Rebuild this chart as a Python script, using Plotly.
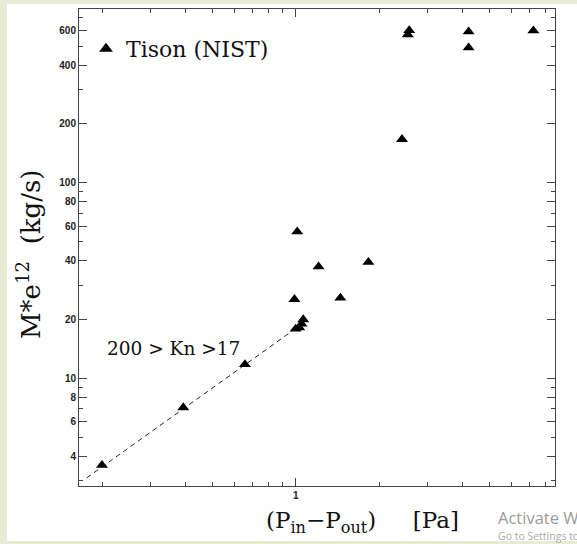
import plotly.graph_objects as go

# Data
dp_pa = [0.20, 0.393, 0.656, 0.99, 1.00, 1.03, 1.05, 1.065, 1.013, 1.21, 1.45, 1.83, 2.42, 2.54, 2.57, 4.21, 4.21, 7.21]
mass_flow = [3.6, 7.1, 11.8, 25.4, 17.9, 18.2, 19.0, 20.0, 56.3, 37.3, 25.8, 39.3, 167, 573, 602, 593, 491, 600]

fit_x = [0.176, 1.0]
fit_y = [3.1, 18.0]

y_tick_vals = [4, 6, 8, 10, 20, 40, 60, 80, 100, 200, 400, 600]
y_tick_text = ["4", "6", "8", "10", "20", "40", "60", "80", "100", "200", "400", "600"]
y_minor_vals = [3, 5, 7, 9, 30, 50, 70, 90, 300, 500, 700]
x_tick_vals = [1]
x_tick_text = ["1"]
x_minor_vals = [0.2, 0.3, 0.4, 0.5, 0.6, 0.7, 0.8, 0.9, 2, 3, 4, 5, 6, 7, 8]

W, H = 577, 544
L, R, T, B = 79, 22, 9, 58
pw, ph = W - L - R, H - T - B

def px(xp):
    return (xp - L) / pw

def py(yp):
    return (H - B - yp) / ph

serif = "DejaVu Serif"
ink = "#111111"
green = "#e8ecd4"

fig = go.Figure()
fig.add_trace(go.Scatter(
    x=fit_x, y=fit_y, mode="lines",
    line=dict(color="#222222", width=1, dash="5px,4px"),
    showlegend=False, hoverinfo="skip"))
fig.add_trace(go.Scatter(
    x=dp_pa, y=mass_flow, mode="markers", name="Tison (NIST)",
    marker=dict(symbol="triangle-up", size=10.5, color="black", line=dict(width=0))))

axis_common = dict(
    showgrid=False, zeroline=False, showline=True, linecolor="#444444", linewidth=1,
    ticks="inside", mirror="ticks", tickcolor="#444444", tickwidth=1, ticklen=8,
    tickfont=dict(family="Liberation Sans", size=10, color="#222222", weight="bold"),
)

fig.update_layout(
    width=W, height=H,
    margin=dict(l=L, r=R, t=T, b=B, autoexpand=False),
    paper_bgcolor="white", plot_bgcolor="white",
    xaxis=dict(type="log", range=[-0.782, 0.936], tickmode="array",
               tickvals=x_tick_vals, ticktext=x_tick_text,
               minor=dict(tickmode="array", tickvals=x_minor_vals, ticks="inside",
                          ticklen=4, tickcolor="#444444", tickwidth=1),
               **axis_common),
    yaxis=dict(type="log", range=[0.45, 2.889], tickmode="array",
               tickvals=y_tick_vals, ticktext=y_tick_text,
               minor=dict(tickmode="array", tickvals=y_minor_vals, ticks="inside",
                          ticklen=4, tickcolor="#444444", tickwidth=1),
               **axis_common),
    showlegend=True,
    legend=dict(x=px(86), y=py(28), xanchor="left", yanchor="top",
                bgcolor="rgba(0,0,0,0)", borderwidth=0,
                font=dict(family=serif, size=22, color=ink),
                itemsizing="constant"),
    shapes=[
        dict(type="rect", xref="paper", yref="paper", layer="below",
             x0=px(-2), x1=px(7), y0=py(548), y1=py(-2),
             fillcolor=green, line=dict(width=0)),
        dict(type="rect", xref="paper", yref="paper", layer="below",
             x0=px(-2), x1=px(580), y0=py(4), y1=py(-2),
             fillcolor=green, line=dict(width=0)),
        dict(type="rect", xref="paper", yref="paper", layer="below",
             x0=px(-2), x1=px(580), y0=py(548), y1=py(541),
             fillcolor=green, line=dict(width=0)),
    ],
    annotations=[
        dict(text="200 > Kn >17", xref="paper", yref="paper",
             x=px(105), y=py(348), xanchor="left", yanchor="middle", showarrow=False,
             font=dict(family=serif, size=18.5, color=ink)),
        dict(text="M*e<sup>12</sup>\u00a0\u00a0(kg/s)", xref="paper", yref="paper",
             x=px(29), y=py(254), xanchor="center", yanchor="middle", showarrow=False,
             textangle=-90, font=dict(family=serif, size=26, color=ink)),
        dict(text="(P<sub>in</sub>\u2212P<sub>out</sub>)\u00a0\u00a0\u00a0\u00a0\u00a0[Pa]",
             xref="paper", yref="paper",
             x=px(362), y=py(522), xanchor="center", yanchor="middle", showarrow=False,
             font=dict(family=serif, size=23, color=ink)),
        dict(text="Activate Windows", xref="paper", yref="paper",
             x=px(496), y=py(517), xanchor="left", yanchor="middle", showarrow=False,
             font=dict(family="Open Sans", size=16.5, color="#9a9a9a")),
        dict(text="Go to Settings to activate Windows.", xref="paper", yref="paper",
             x=px(496), y=py(536), xanchor="left", yanchor="middle", showarrow=False,
             font=dict(family="Open Sans", size=10.5, color="#aaaaaa")),
    ],
)

fig.write_html("out.html", config={"displayModeBar": False},
               post_script="document.body.style.margin='0';document.body.style.overflow='hidden';")
